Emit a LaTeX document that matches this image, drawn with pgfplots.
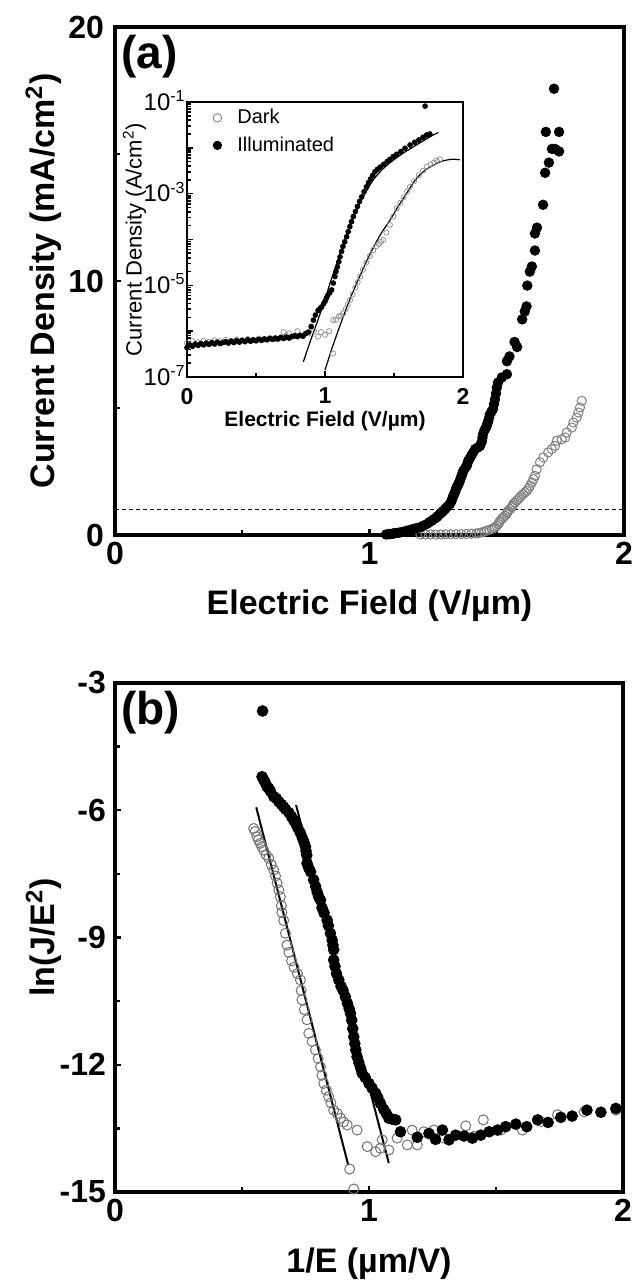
\documentclass[border=0pt]{standalone}
\usepackage{fontspec}
\setmainfont{Liberation Sans}
\usepackage{pgfplots}
\pgfplotsset{compat=1.18}
\newcommand{\bigf}{\fontsize{16}{19}\selectfont\bfseries}
\newcommand{\labf}{\fontsize{17}{20}\selectfont\bfseries}
\begin{document}
\begin{tikzpicture}
\path[use as bounding box] (0,0) rectangle (316.5pt,642pt);
% ---------------- panel (a)
\begin{axis}[
  at={(57.5pt,374.5pt)}, anchor=south west, scale only axis,
  width=254.5pt, height=254pt,
  xmin=0, xmax=2, ymin=0, ymax=20,
  xtick={0,1,2}, xticklabels={0,1,2},
  ytick={0,10,20}, yticklabels={0,10,20},
  minor tick num=1, tick pos=left, tick align=inside,
  major tick length=3pt, minor tick length=2.5pt,
  every tick/.style={black, line width=1.2pt},
  axis line style={line width=2.2pt},
  ticklabel style={font=\bigf},
  yticklabel style={xshift=-2pt},
  xlabel={Electric Field (V/µm)},
  ylabel={Current Density (mA/cm\textsuperscript{2})},
  label style={font=\labf},
  xlabel style={at={(axis description cs:0.5,-0.14)}, anchor=center},
  ylabel style={at={(axis description cs:-0.14,0.5)}, anchor=center},
]
\addplot[black, dashed, dash pattern=on 2pt off 1.5pt, line width=0.5pt] coordinates {(0,1) (2,1)};
\addplot[only marks, mark=o, mark size=2.3pt, draw=black!50, mark options={line width=0.5pt}] coordinates {
(1.20,0.02)(1.22,0.02)(1.24,0.02)(1.26,0.02)(1.28,0.02)(1.30,0.03)(1.32,0.03)(1.34,0.03)(1.36,0.04)(1.38,0.04)
(1.40,0.05)(1.42,0.06)(1.43,0.08)(1.44,0.10)(1.45,0.13)(1.46,0.17)(1.47,0.20)(1.48,0.24)(1.487,0.27)(1.493,0.30)
(1.50,0.36)(1.506,0.43)(1.51,0.50)(1.513,0.56)(1.52,0.63)(1.526,0.70)(1.532,0.76)(1.539,0.83)(1.542,0.89)(1.545,0.95)
(1.552,1.02)(1.559,1.09)(1.562,1.15)(1.565,1.22)(1.571,1.28)(1.578,1.35)(1.585,1.41)(1.591,1.48)(1.597,1.55)(1.604,1.61)
(1.611,1.68)(1.618,1.74)(1.625,1.84)(1.631,1.94)(1.638,2.07)(1.644,2.20)
(1.650,2.33)(1.657,2.59)(1.670,2.86)(1.683,3.05)(1.702,3.25)(1.716,3.38)(1.729,3.51)(1.736,3.71)(1.755,3.77)(1.769,3.84)
(1.775,4.03)(1.795,4.23)(1.801,4.43)(1.814,4.62)(1.821,4.82)(1.827,5.02)(1.834,5.28)};
\addplot[only marks, mark=*, mark size=2.4pt, black] coordinates {
(1.065,0.02)(1.075,0.03)(1.08,0.04)(1.09,0.05)(1.095,0.06)(1.10,0.07)(1.11,0.08)(1.12,0.10)(1.13,0.12)(1.146,0.17)
(1.16,0.20)(1.172,0.24)(1.185,0.27)(1.198,0.30)(1.21,0.36)(1.225,0.43)(1.235,0.50)(1.244,0.56)(1.254,0.63)(1.264,0.70)
(1.27,0.76)(1.277,0.83)(1.284,0.89)(1.290,0.95)(1.297,1.02)(1.303,1.09)(1.31,1.15)(1.316,1.22)(1.319,1.28)(1.323,1.35)
(1.326,1.45)(1.329,1.54)(1.333,1.61)(1.336,1.68)(1.339,1.78)(1.342,1.87)(1.346,1.93)(1.349,2.00)(1.352,2.06)(1.355,2.13)
(1.358,2.23)(1.362,2.33)(1.365,2.43)(1.369,2.53)(1.375,2.62)(1.382,2.72)(1.385,2.82)(1.388,2.92)(1.394,3.02)(1.400,3.12)
(1.407,3.25)(1.415,3.38)(1.425,3.44)(1.434,3.50)(1.438,3.60)(1.442,3.69)(1.444,3.83)(1.446,3.97)
(1.450,4.09)(1.455,4.18)(1.460,4.28)(1.463,4.38)(1.466,4.48)(1.470,4.62)(1.473,4.75)(1.479,4.85)(1.485,4.95)(1.489,5.15)
(1.493,5.34)(1.497,5.57)(1.500,5.80)(1.505,6.00)(1.520,6.20)(1.540,6.33)
(1.540,6.84)(1.550,7.03)(1.580,7.40)(1.570,7.60)(1.600,8.49)(1.610,8.80)(1.617,9.00)(1.620,9.82)(1.630,10.37)(1.638,10.57)
(1.650,11.20)(1.650,11.87)(1.658,12.10)(1.682,13.00)(1.690,14.26)(1.705,14.66)(1.717,15.20)(1.729,15.20)(1.745,15.10)
(1.693,15.87)(1.745,15.87)(1.725,17.57)};
\node[anchor=north west, inner sep=0pt, font=\fontsize{23}{26}\selectfont\bfseries] at (axis description cs:0.012,0.985) {(a)};
\end{axis}
% ---------------- inset
\begin{axis}[
  at={(93.5pt,453.5pt)}, anchor=south west, scale only axis,
  width=138pt, height=137.5pt,
  xmin=0, xmax=2, ymode=log, ymin=1e-7, ymax=1e-1,
  xtick={0,1,2}, xticklabels={0,1,2}, minor x tick num=1,
  ytick={1e-7,1e-6,1e-5,1e-4,1e-3,1e-2,1e-1},
  yticklabels={{10\textsuperscript{-7}},{},{10\textsuperscript{-5}},{},{10\textsuperscript{-3}},{},{10\textsuperscript{-1}}},
  minor ytick={2e-7,3e-7,4e-7,5e-7,6e-7,7e-7,8e-7,9e-7,2e-6,3e-6,4e-6,5e-6,6e-6,7e-6,8e-6,9e-6,
    2e-5,3e-5,4e-5,5e-5,6e-5,7e-5,8e-5,9e-5,2e-4,3e-4,4e-4,5e-4,6e-4,7e-4,8e-4,9e-4,
    2e-3,3e-3,4e-3,5e-3,6e-3,7e-3,8e-3,9e-3,2e-2,3e-2,4e-2,5e-2,6e-2,7e-2,8e-2,9e-2},
  tick pos=left, tick align=inside,
  major tick length=3pt, minor tick length=1.8pt,
  every tick/.style={black, line width=0.8pt},
  axis line style={line width=1.4pt},
  yticklabel style={font=\fontsize{12}{14}\selectfont, inner sep=1pt, xshift=0.5pt, yshift=0.8pt},
  xticklabel style={font=\fontsize{11.5}{13}\selectfont\bfseries, yshift=-2pt},
  xlabel={Electric Field (V/µm)},
  ylabel={Current Density (A/cm\textsuperscript{2})},
  xlabel style={font=\fontsize{10.5}{12}\selectfont\bfseries, at={(axis description cs:0.5,-0.16)}, anchor=center},
  ylabel style={font=\fontsize{11}{13}\selectfont, at={(axis description cs:-0.19,0.5)}, anchor=center},
  legend style={at={(axis description cs:0.087,0.99)}, anchor=north west, draw=none, fill=none,
    font=\fontsize{10}{12}\selectfont, inner sep=0pt, row sep=1pt},
  legend image code/.code={\path[draw=none, fill=none] (0pt,-2pt) rectangle (11pt,2pt); \draw[#1] plot coordinates {(3pt,0pt)};},
  legend cell align=left,
]
\addlegendimage{only marks, mark=o, mark size=2.1pt, draw=black!45, mark options={line width=0.5pt}}
\addlegendentry{Dark}
\addlegendimage{only marks, mark=*, mark size=2.1pt, black}
\addlegendentry{Illuminated}
\addplot[forget plot, only marks, mark=o, mark size=1.3pt, draw=black!45, mark options={line width=0.35pt}] coordinates {
(0.00,5.50e-7)(0.04,6.03e-7)(0.08,5.75e-7)(0.12,6.17e-7)(0.16,5.89e-7)(0.20,6.31e-7)(0.24,6.03e-7)(0.28,6.46e-7)
(0.32,6.17e-7)(0.36,6.61e-7)(0.40,6.31e-7)(0.44,6.76e-7)(0.48,6.46e-7)(0.52,6.92e-7)(0.56,6.61e-7)(0.60,7.08e-7)
(0.64,6.76e-7)(0.68,7.41e-7)(0.70,9.55e-7)(0.72,7.94e-7)(0.74,8.91e-7)(0.76,7.59e-7)(0.80,1.00e-6)(0.84,7.94e-7)
(0.88,8.91e-7)(0.92,1.00e-6)(0.95,7.59e-7)(0.97,9.55e-7)(1.00,8.32e-7)(1.03,1.00e-6)(1.058,3.24e-7)(1.06,1.74e-6)
(1.08,1.78e-6)(1.10,2.09e-6)(1.115,2.19e-6)(1.133,2.45e-6)(1.15,3.02e-6)(1.165,3.80e-6)(1.181,4.79e-6)(1.20,6.31e-6)
(1.22,8.91e-6)(1.237,1.17e-5)(1.254,1.55e-5)(1.275,2.19e-5)(1.30,3.16e-5)(1.325,4.37e-5)(1.35,5.89e-5)(1.37,7.08e-5)
(1.39,7.94e-5)(1.405,8.91e-5)(1.423,9.77e-5)(1.445,1.41e-4)(1.47,2.09e-4)(1.495,3.16e-4)(1.52,4.79e-4)(1.545,6.31e-4)
(1.57,8.32e-4)(1.595,1.12e-3)(1.616,1.41e-3)(1.645,1.86e-3)(1.68,2.51e-3)(1.71,3.16e-3)(1.737,3.89e-3)(1.765,4.37e-3)
(1.79,4.79e-3)(1.81,5.25e-3)(1.833,5.62e-3)};
\addplot[forget plot, only marks, mark=*, mark size=1.2pt, black] coordinates {
(0.00,4.37e-7)(0.02,5.01e-7)(0.04,4.68e-7)(0.06,5.25e-7)(0.08,4.90e-7)(0.10,5.37e-7)(0.12,5.01e-7)(0.14,5.50e-7)
(0.16,5.13e-7)(0.18,5.62e-7)(0.20,5.25e-7)(0.22,5.75e-7)(0.24,5.37e-7)(0.26,5.62e-7)(0.28,5.89e-7)(0.30,5.50e-7)
(0.32,6.03e-7)(0.34,5.62e-7)(0.36,6.17e-7)(0.38,5.75e-7)(0.40,6.31e-7)(0.42,5.89e-7)(0.44,6.46e-7)(0.46,6.03e-7)
(0.48,6.46e-7)(0.50,6.17e-7)(0.52,6.61e-7)(0.54,6.31e-7)(0.56,6.76e-7)(0.58,6.46e-7)(0.60,6.92e-7)(0.62,6.61e-7)
(0.64,7.08e-7)(0.66,6.76e-7)(0.68,7.24e-7)(0.70,6.92e-7)(0.72,7.41e-7)(0.74,7.08e-7)(0.76,7.59e-7)(0.78,7.94e-7)
(0.80,7.59e-7)(0.82,8.13e-7)(0.84,7.76e-7)(0.86,8.91e-7)(0.88,9.55e-7)(0.90,1.26e-6)(0.916,1.74e-6)(0.93,2.24e-6)
(0.95,2.82e-6)(0.965,3.16e-6)(0.976,3.39e-6)(0.99,3.98e-6)(1.00,4.47e-6)(1.01,5.25e-6)(1.02,6.03e-6)(1.035,6.92e-6)
(1.048,7.94e-6)(1.06,1.12e-5)(1.072,1.55e-5)(1.08,2.00e-5)(1.09,2.51e-5)(1.10,3.24e-5)(1.109,4.17e-5)(1.12,5.50e-5)
(1.13,7.08e-5)(1.143,8.91e-5)(1.157,1.15e-4)(1.168,1.48e-4)(1.18,1.91e-4)(1.192,2.45e-4)(1.205,3.16e-4)(1.22,4.07e-4)
(1.235,5.25e-4)(1.25,6.76e-4)(1.266,8.51e-4)(1.283,1.10e-3)(1.30,1.41e-3)(1.315,1.74e-3)(1.33,2.09e-3)(1.346,2.51e-3)
(1.362,3.02e-3)(1.38,3.39e-3)(1.40,3.80e-3)(1.425,4.37e-3)(1.45,5.01e-3)(1.47,5.62e-3)(1.495,6.46e-3)(1.52,7.24e-3)
(1.55,8.32e-3)(1.58,9.77e-3)(1.616,1.15e-2)(1.65,1.32e-2)(1.68,1.48e-2)(1.71,1.70e-2)(1.737,1.91e-2)(1.76,2.00e-2)
(1.725,8.13e-2)};
\addplot[forget plot, black, line width=0.6pt, smooth] coordinates {
(0.843,2.14e-7)(0.89,5.62e-7)(0.94,1.48e-6)(0.99,3.98e-6)(1.036,1.10e-5)(1.085,3.02e-5)(1.133,8.13e-5)(1.18,1.91e-4)
(1.229,4.37e-4)(1.29,1.00e-3)(1.35,2.00e-3)(1.42,3.47e-3)(1.495,5.37e-3)(1.57,7.76e-3)(1.64,1.05e-2)(1.71,1.41e-2)
(1.785,1.91e-2)(1.821,2.14e-2)};
\addplot[forget plot, black, line width=0.6pt, smooth] coordinates {
(1.0,1.41e-7)(1.05,4.17e-7)(1.10,1.12e-6)(1.165,3.80e-6)(1.229,1.10e-5)(1.29,2.82e-5)(1.353,6.92e-5)(1.41,1.41e-4)
(1.471,2.63e-4)(1.53,5.25e-4)(1.59,1.00e-3)(1.65,1.91e-3)(1.712,3.02e-3)(1.785,4.17e-3)(1.85,5.13e-3)(1.92,5.62e-3)
(1.978,5.50e-3)};
\end{axis}
% ---------------- panel (b)
\begin{axis}[
  at={(57.5pt,46pt)}, anchor=south west, scale only axis,
  width=254pt, height=254.5pt,
  xmin=0, xmax=2, ymin=-15, ymax=-3,
  xtick={0,1,2}, xticklabels={0,1,2},
  ytick={-15,-12,-9,-6,-3}, yticklabels={-15,-12,-9,-6,-3},
  minor tick num=1, tick pos=left, tick align=inside,
  major tick length=3pt, minor tick length=2.5pt,
  every tick/.style={black, line width=1.2pt},
  axis line style={line width=2.2pt},
  ticklabel style={font=\bigf},
  yticklabel style={xshift=-1pt},
  xlabel={1/E (µm/V)},
  ylabel={ln(J/E\textsuperscript{2})},
  label style={font=\labf},
  xlabel style={at={(axis description cs:0.5,-0.14)}, anchor=center},
  ylabel style={at={(axis description cs:-0.14,0.5)}, anchor=center},
]
\addplot[only marks, mark=o, mark size=2.5pt, draw=black!55, mark options={line width=0.5pt}] coordinates {
(0.546,-6.43)(0.552,-6.50)(0.559,-6.62)(0.565,-6.70)(0.572,-6.78)(0.578,-6.86)(0.585,-6.94)(0.595,-7.05)(0.605,-7.13)
(0.615,-7.28)(0.625,-7.41)(0.632,-7.55)(0.638,-7.72)(0.645,-7.88)(0.651,-8.04)(0.655,-8.25)(0.657,-8.41)(0.664,-8.60)
(0.671,-8.90)(0.677,-9.18)(0.685,-9.35)(0.695,-9.55)(0.705,-9.70)(0.718,-9.85)(0.730,-10.00)(0.733,-10.25)(0.736,-10.47)
(0.745,-10.70)(0.756,-10.94)(0.763,-11.26)(0.776,-11.45)(0.789,-11.65)(0.800,-11.85)(0.809,-12.05)(0.815,-12.25)
(0.822,-12.44)(0.832,-12.60)(0.841,-12.75)(0.850,-12.90)(0.861,-13.07)(0.875,-13.15)(0.888,-13.26)(0.900,-13.35)
(0.914,-13.42)(0.924,-14.46)(0.940,-14.93)(0.953,-13.54)(0.993,-13.93)(1.026,-14.05)(1.045,-13.97)(1.052,-13.77)
(1.078,-14.01)(1.111,-13.73)(1.151,-13.89)(1.170,-13.54)(1.190,-13.89)(1.216,-13.58)(1.256,-13.54)(1.295,-13.73)
(1.381,-13.44)(1.413,-13.69)(1.450,-13.30)(1.519,-13.54)(1.604,-13.54)(1.677,-13.34)(1.742,-13.18)(1.847,-13.11)
(1.972,-13.07)};
\addplot[only marks, mark=*, mark size=2.7pt, black] coordinates {
(0.581,-3.66)(0.579,-5.21)(0.585,-5.28)(0.590,-5.33)(0.598,-5.44)(0.605,-5.48)(0.612,-5.55)(0.625,-5.68)(0.635,-5.72)
(0.645,-5.80)(0.655,-5.86)(0.664,-5.92)(0.672,-5.98)(0.685,-6.06)(0.695,-6.15)(0.703,-6.23)(0.712,-6.32)(0.720,-6.42)
(0.730,-6.54)(0.738,-6.66)(0.745,-6.77)(0.750,-6.86)(0.752,-6.96)(0.755,-7.06)(0.756,-7.25)(0.762,-7.35)(0.770,-7.45)
(0.782,-7.64)(0.790,-7.80)(0.796,-7.93)(0.802,-8.04)(0.809,-8.12)(0.815,-8.30)(0.823,-8.42)(0.835,-8.59)(0.840,-8.72)
(0.848,-8.90)(0.855,-9.06)(0.858,-9.18)(0.861,-9.29)(0.861,-9.53)(0.866,-9.68)(0.872,-9.85)(0.881,-10.00)(0.890,-10.15)
(0.898,-10.25)(0.907,-10.40)(0.915,-10.55)(0.922,-10.68)(0.927,-10.79)(0.932,-10.95)(0.936,-11.15)(0.940,-11.34)
(0.944,-11.50)(0.948,-11.65)(0.953,-11.81)(0.960,-11.95)(0.967,-12.08)(0.973,-12.20)(0.985,-12.30)(1.000,-12.44)
(1.012,-12.55)(1.026,-12.67)(1.035,-12.78)(1.045,-12.91)(1.058,-13.05)(1.068,-13.15)(1.078,-13.26)(1.090,-13.28)
(1.105,-13.30)(1.124,-13.58)(1.190,-13.71)(1.236,-13.62)(1.262,-13.76)(1.289,-13.54)(1.315,-13.77)(1.341,-13.66)
(1.374,-13.68)(1.407,-13.73)(1.440,-13.66)(1.473,-13.58)(1.506,-13.54)(1.538,-13.46)(1.578,-13.40)(1.621,-13.46)
(1.664,-13.30)(1.705,-13.36)(1.755,-13.24)(1.800,-13.21)(1.858,-13.07)(1.913,-13.12)(1.972,-13.03)};
\addplot[black, line width=1pt] coordinates {(0.556,-5.93) (0.918,-14.36)};
\addplot[black, line width=1pt] coordinates {(0.713,-5.88) (1.078,-14.32)};
\node[anchor=north west, inner sep=0pt, font=\fontsize{23}{26}\selectfont\bfseries] at (axis description cs:0.012,0.985) {(b)};
\end{axis}
\end{tikzpicture}
\end{document}
